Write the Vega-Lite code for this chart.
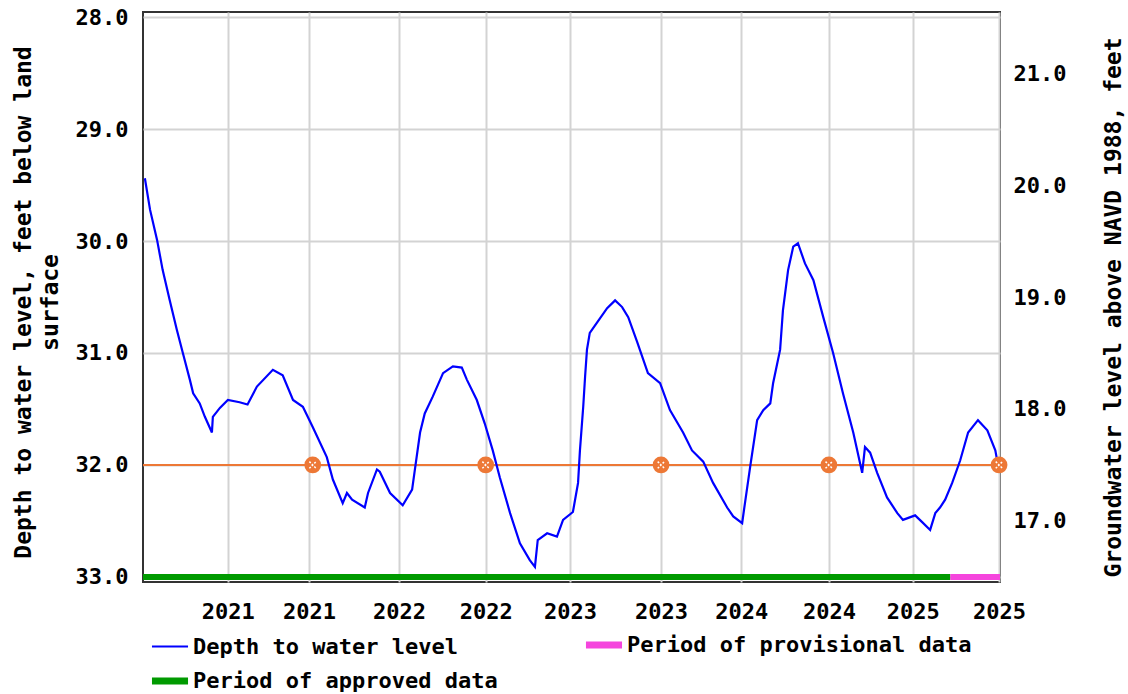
{
  "$schema": "https://vega.github.io/schema/vega-lite/v6.json",
  "width": 857,
  "height": 570,
  "autosize": {"type": "none"},
  "padding": {"left": 143, "top": 12, "right": 128, "bottom": 112},
  "background": "white",
  "config": {
    "view": {"stroke": "#333333", "strokeWidth": 2},
    "font": "DejaVu Sans Mono",
    "axis": {
      "labelFont": "DejaVu Sans Mono",
      "labelFontSize": 22,
      "labelFontWeight": "bold",
      "labelColor": "#000000",
      "titleFont": "DejaVu Sans Mono",
      "titleFontSize": 23,
      "titleFontWeight": "bold",
      "titleColor": "#000000",
      "domain": false,
      "ticks": false,
      "tickSize": 0,
      "gridColor": "#d3d3d3",
      "gridWidth": 2,
      "gridOpacity": 1,
      "labelFlush": false
    },
    "legend": {
      "labelFont": "DejaVu Sans Mono",
      "labelFontSize": 22,
      "labelFontWeight": "bold",
      "labelColor": "#000000"
    }
  },
  "datasets": {
    "levels": [
      {"series": "Depth to water level", "date": "2020-07-08", "depth": 29.44},
      {"series": "Depth to water level", "date": "2020-07-19", "depth": 29.72},
      {"series": "Depth to water level", "date": "2020-08-03", "depth": 29.99},
      {"series": "Depth to water level", "date": "2020-08-15", "depth": 30.26},
      {"series": "Depth to water level", "date": "2020-08-30", "depth": 30.53},
      {"series": "Depth to water level", "date": "2020-09-14", "depth": 30.79},
      {"series": "Depth to water level", "date": "2020-09-27", "depth": 31.0},
      {"series": "Depth to water level", "date": "2020-10-12", "depth": 31.24},
      {"series": "Depth to water level", "date": "2020-10-19", "depth": 31.36},
      {"series": "Depth to water level", "date": "2020-11-02", "depth": 31.45},
      {"series": "Depth to water level", "date": "2020-11-13", "depth": 31.57},
      {"series": "Depth to water level", "date": "2020-11-28", "depth": 31.71},
      {"series": "Depth to water level", "date": "2020-11-30", "depth": 31.57},
      {"series": "Depth to water level", "date": "2020-12-15", "depth": 31.49},
      {"series": "Depth to water level", "date": "2021-01-01", "depth": 31.42},
      {"series": "Depth to water level", "date": "2021-01-26", "depth": 31.44},
      {"series": "Depth to water level", "date": "2021-02-12", "depth": 31.46},
      {"series": "Depth to water level", "date": "2021-03-04", "depth": 31.3},
      {"series": "Depth to water level", "date": "2021-04-07", "depth": 31.15},
      {"series": "Depth to water level", "date": "2021-04-28", "depth": 31.2},
      {"series": "Depth to water level", "date": "2021-05-20", "depth": 31.42},
      {"series": "Depth to water level", "date": "2021-06-10", "depth": 31.48},
      {"series": "Depth to water level", "date": "2021-07-01", "depth": 31.66},
      {"series": "Depth to water level", "date": "2021-07-31", "depth": 31.93},
      {"series": "Depth to water level", "date": "2021-08-13", "depth": 32.13},
      {"series": "Depth to water level", "date": "2021-09-03", "depth": 32.34},
      {"series": "Depth to water level", "date": "2021-09-12", "depth": 32.25},
      {"series": "Depth to water level", "date": "2021-09-23", "depth": 32.31},
      {"series": "Depth to water level", "date": "2021-10-20", "depth": 32.38},
      {"series": "Depth to water level", "date": "2021-10-27", "depth": 32.25},
      {"series": "Depth to water level", "date": "2021-11-15", "depth": 32.04},
      {"series": "Depth to water level", "date": "2021-11-21", "depth": 32.06},
      {"series": "Depth to water level", "date": "2021-12-13", "depth": 32.25},
      {"series": "Depth to water level", "date": "2022-01-09", "depth": 32.36},
      {"series": "Depth to water level", "date": "2022-01-29", "depth": 32.22},
      {"series": "Depth to water level", "date": "2022-02-04", "depth": 32.04},
      {"series": "Depth to water level", "date": "2022-02-15", "depth": 31.71},
      {"series": "Depth to water level", "date": "2022-02-25", "depth": 31.54},
      {"series": "Depth to water level", "date": "2022-03-14", "depth": 31.39},
      {"series": "Depth to water level", "date": "2022-04-05", "depth": 31.18},
      {"series": "Depth to water level", "date": "2022-04-26", "depth": 31.12},
      {"series": "Depth to water level", "date": "2022-05-15", "depth": 31.13},
      {"series": "Depth to water level", "date": "2022-05-26", "depth": 31.24},
      {"series": "Depth to water level", "date": "2022-06-16", "depth": 31.42},
      {"series": "Depth to water level", "date": "2022-07-03", "depth": 31.63},
      {"series": "Depth to water level", "date": "2022-07-20", "depth": 31.87},
      {"series": "Depth to water level", "date": "2022-08-04", "depth": 32.11},
      {"series": "Depth to water level", "date": "2022-08-26", "depth": 32.43},
      {"series": "Depth to water level", "date": "2022-09-16", "depth": 32.7},
      {"series": "Depth to water level", "date": "2022-10-07", "depth": 32.85},
      {"series": "Depth to water level", "date": "2022-10-18", "depth": 32.91},
      {"series": "Depth to water level", "date": "2022-10-24", "depth": 32.67},
      {"series": "Depth to water level", "date": "2022-11-13", "depth": 32.61},
      {"series": "Depth to water level", "date": "2022-12-04", "depth": 32.64},
      {"series": "Depth to water level", "date": "2022-12-17", "depth": 32.49},
      {"series": "Depth to water level", "date": "2023-01-07", "depth": 32.42},
      {"series": "Depth to water level", "date": "2023-01-18", "depth": 32.16},
      {"series": "Depth to water level", "date": "2023-01-22", "depth": 31.87},
      {"series": "Depth to water level", "date": "2023-01-29", "depth": 31.48},
      {"series": "Depth to water level", "date": "2023-02-02", "depth": 31.21},
      {"series": "Depth to water level", "date": "2023-02-06", "depth": 30.97},
      {"series": "Depth to water level", "date": "2023-02-12", "depth": 30.82},
      {"series": "Depth to water level", "date": "2023-02-27", "depth": 30.73},
      {"series": "Depth to water level", "date": "2023-03-21", "depth": 30.6},
      {"series": "Depth to water level", "date": "2023-04-07", "depth": 30.53},
      {"series": "Depth to water level", "date": "2023-04-22", "depth": 30.59},
      {"series": "Depth to water level", "date": "2023-05-05", "depth": 30.68},
      {"series": "Depth to water level", "date": "2023-05-24", "depth": 30.9},
      {"series": "Depth to water level", "date": "2023-06-16", "depth": 31.18},
      {"series": "Depth to water level", "date": "2023-07-12", "depth": 31.27},
      {"series": "Depth to water level", "date": "2023-08-02", "depth": 31.51},
      {"series": "Depth to water level", "date": "2023-08-30", "depth": 31.71},
      {"series": "Depth to water level", "date": "2023-09-18", "depth": 31.87},
      {"series": "Depth to water level", "date": "2023-10-12", "depth": 31.97},
      {"series": "Depth to water level", "date": "2023-11-02", "depth": 32.16},
      {"series": "Depth to water level", "date": "2023-12-02", "depth": 32.38},
      {"series": "Depth to water level", "date": "2023-12-15", "depth": 32.46},
      {"series": "Depth to water level", "date": "2024-01-03", "depth": 32.52},
      {"series": "Depth to water level", "date": "2024-01-09", "depth": 32.34},
      {"series": "Depth to water level", "date": "2024-01-20", "depth": 32.02},
      {"series": "Depth to water level", "date": "2024-02-04", "depth": 31.6},
      {"series": "Depth to water level", "date": "2024-02-17", "depth": 31.51},
      {"series": "Depth to water level", "date": "2024-03-03", "depth": 31.45},
      {"series": "Depth to water level", "date": "2024-03-09", "depth": 31.27},
      {"series": "Depth to water level", "date": "2024-03-24", "depth": 30.97},
      {"series": "Depth to water level", "date": "2024-03-30", "depth": 30.62},
      {"series": "Depth to water level", "date": "2024-04-10", "depth": 30.26},
      {"series": "Depth to water level", "date": "2024-04-21", "depth": 30.05},
      {"series": "Depth to water level", "date": "2024-05-01", "depth": 30.02},
      {"series": "Depth to water level", "date": "2024-05-16", "depth": 30.2},
      {"series": "Depth to water level", "date": "2024-06-03", "depth": 30.35},
      {"series": "Depth to water level", "date": "2024-06-24", "depth": 30.68},
      {"series": "Depth to water level", "date": "2024-07-15", "depth": 31.0},
      {"series": "Depth to water level", "date": "2024-08-05", "depth": 31.36},
      {"series": "Depth to water level", "date": "2024-08-27", "depth": 31.71},
      {"series": "Depth to water level", "date": "2024-09-15", "depth": 32.07},
      {"series": "Depth to water level", "date": "2024-09-21", "depth": 31.84},
      {"series": "Depth to water level", "date": "2024-10-02", "depth": 31.89},
      {"series": "Depth to water level", "date": "2024-10-17", "depth": 32.07},
      {"series": "Depth to water level", "date": "2024-11-07", "depth": 32.29},
      {"series": "Depth to water level", "date": "2024-11-29", "depth": 32.43},
      {"series": "Depth to water level", "date": "2024-12-11", "depth": 32.49},
      {"series": "Depth to water level", "date": "2025-01-06", "depth": 32.45},
      {"series": "Depth to water level", "date": "2025-01-21", "depth": 32.51},
      {"series": "Depth to water level", "date": "2025-02-07", "depth": 32.58},
      {"series": "Depth to water level", "date": "2025-02-18", "depth": 32.43},
      {"series": "Depth to water level", "date": "2025-02-28", "depth": 32.38},
      {"series": "Depth to water level", "date": "2025-03-11", "depth": 32.31},
      {"series": "Depth to water level", "date": "2025-03-26", "depth": 32.16},
      {"series": "Depth to water level", "date": "2025-04-12", "depth": 31.96},
      {"series": "Depth to water level", "date": "2025-04-29", "depth": 31.71},
      {"series": "Depth to water level", "date": "2025-05-20", "depth": 31.6},
      {"series": "Depth to water level", "date": "2025-06-09", "depth": 31.69},
      {"series": "Depth to water level", "date": "2025-06-26", "depth": 31.87},
      {"series": "Depth to water level", "date": "2025-06-30", "depth": 31.96}
    ],
    "periods": [
      {"series": "Period of approved data", "start": "2020-07-04", "end": "2025-03-22"},
      {"series": "Period of provisional data", "start": "2025-03-22", "end": "2025-07-06"}
    ],
    "median": [
      {"start": "2020-07-04", "end": "2025-07-06", "depth": 32.0}
    ],
    "markers": [
      {"date": "2021-07-01", "depth": 32.0},
      {"date": "2022-07-05", "depth": 32.0},
      {"date": "2023-07-14", "depth": 32.0},
      {"date": "2024-07-06", "depth": 32.0},
      {"date": "2025-07-04", "depth": 32.0}
    ],
    "rightAxis": [
      {"gw": 17.0}, {"gw": 18.0}, {"gw": 19.0}, {"gw": 20.0}, {"gw": 21.0}
    ]
  },
  "layer": [
    {
      "data": {"name": "median"},
      "mark": {"type": "rule", "color": "#ed7836", "strokeWidth": 2},
      "encoding": {
        "x": {"field": "start", "type": "temporal"},
        "x2": {"field": "end"},
        "y": {
          "field": "depth",
          "type": "quantitative",
          "scale": {"domain": [27.955, 33.045], "reverse": true, "nice": false, "zero": false},
          "axis": null
        }
      }
    },
    {
      "data": {"name": "levels"},
      "mark": {"type": "line", "strokeWidth": 2.2, "interpolate": "linear"},
      "encoding": {
        "x": {
          "field": "date",
          "type": "temporal",
          "scale": {
            "type": "utc",
            "domain": [
              {"year": 2020, "month": 7, "date": 4, "utc": true},
              {"year": 2025, "month": 7, "date": 6, "utc": true}
            ],
            "nice": false
          },
          "axis": {
            "title": null,
            "format": "%Y",
            "labelPadding": 19,
            "labelFlush": false,
            "grid": true,
            "labelOverlap": false,
            "values": [
              {"year": 2021, "month": 1, "date": 1, "utc": true},
              {"year": 2021, "month": 6, "date": 23, "utc": true},
              {"year": 2022, "month": 1, "date": 1, "utc": true},
              {"year": 2022, "month": 7, "date": 5, "utc": true},
              {"year": 2023, "month": 1, "date": 1, "utc": true},
              {"year": 2023, "month": 7, "date": 14, "utc": true},
              {"year": 2024, "month": 1, "date": 1, "utc": true},
              {"year": 2024, "month": 7, "date": 6, "utc": true},
              {"year": 2025, "month": 1, "date": 1, "utc": true},
              {"year": 2025, "month": 7, "date": 4, "utc": true}
            ]
          }
        },
        "y": {
          "field": "depth",
          "type": "quantitative",
          "scale": {"domain": [27.955, 33.045], "reverse": true, "nice": false, "zero": false},
          "axis": {
            "values": [28, 29, 30, 31, 32, 33],
            "format": ".1f",
            "grid": true,
            "labelPadding": 15,
            "title": ["Depth to water level, feet below land", "surface"],
            "titleAngle": -90,
            "titleAlign": "center",
            "titleBaseline": "middle",
            "titleLineHeight": 27,
            "titleX": -120,
            "titleY": 290
          }
        },
        "color": {
          "field": "series",
          "type": "nominal",
          "scale": {
            "domain": ["Depth to water level", "Period of approved data", "Period of provisional data"],
            "range": ["#0000ff", "#009a00", "#f545dd"]
          },
          "legend": {
            "title": null,
            "orient": "none",
            "legendX": 16,
            "legendY": 622,
            "columns": 2,
            "columnPadding": 73,
            "rowPadding": 8,
            "gridAlign": "each",
            "symbolType": "stroke",
            "symbolSize": 1300,
            "symbolStrokeWidth": 6,
            "labelOffset": 12,
            "labelLimit": 0,
            "padding": 0,
            "encode": {
              "symbols": {
                "update": {
                  "strokeWidth": {"signal": "datum.value === 'Depth to water level' ? 2 : 7"}
                }
              }
            }
          }
        }
      }
    },
    {
      "data": {"name": "periods"},
      "mark": {"type": "rule", "strokeWidth": 6},
      "encoding": {
        "x": {"field": "start", "type": "temporal"},
        "x2": {"field": "end"},
        "y": {
          "datum": 33.0,
          "type": "quantitative",
          "scale": {"domain": [27.955, 33.045], "reverse": true, "nice": false, "zero": false},
          "axis": null
        },
        "color": {
          "field": "series",
          "type": "nominal",
          "scale": {
            "domain": ["Depth to water level", "Period of approved data", "Period of provisional data"],
            "range": ["#0000ff", "#009a00", "#f545dd"]
          },
          "legend": {
            "title": null,
            "orient": "none",
            "legendX": 16,
            "legendY": 622,
            "columns": 2,
            "columnPadding": 73,
            "rowPadding": 8,
            "gridAlign": "each",
            "symbolType": "stroke",
            "symbolSize": 1300,
            "symbolStrokeWidth": 6,
            "labelOffset": 12,
            "labelLimit": 0,
            "padding": 0,
            "encode": {
              "symbols": {
                "update": {
                  "strokeWidth": {"signal": "datum.value === 'Depth to water level' ? 2 : 7"}
                }
              }
            }
          }
        }
      }
    },
    {
      "data": {"name": "markers"},
      "mark": {"type": "point", "shape": "circle", "filled": true, "size": 280, "color": "#ed7836", "opacity": 1},
      "encoding": {
        "x": {"field": "date", "type": "temporal"},
        "y": {
          "field": "depth",
          "type": "quantitative",
          "scale": {"domain": [27.955, 33.045], "reverse": true, "nice": false, "zero": false},
          "axis": null
        }
      }
    },
    {
      "data": {"name": "markers"},
      "mark": {"type": "point", "shape": "M-1,-1L1,1M-1,1L1,-1", "filled": false, "size": 45, "stroke": "#ffffff", "strokeWidth": 1.5, "strokeDash": [2, 1.5], "opacity": 1},
      "encoding": {
        "x": {"field": "date", "type": "temporal"},
        "y": {
          "field": "depth",
          "type": "quantitative",
          "scale": {"domain": [27.955, 33.045], "reverse": true, "nice": false, "zero": false},
          "axis": null
        }
      }
    },
    {
      "data": {"name": "rightAxis"},
      "mark": {"type": "point", "opacity": 0},
      "encoding": {
        "y": {
          "field": "gw",
          "type": "quantitative",
          "scale": {"domain": [16.455, 21.545], "nice": false, "zero": false},
          "axis": {
            "orient": "right",
            "values": [17, 18, 19, 20, 21],
            "format": ".1f",
            "grid": false,
            "labelPadding": 13,
            "title": "Groundwater level above NAVD 1988, feet",
            "titleAngle": -90,
            "titleAlign": "center",
            "titleBaseline": "middle",
            "titleX": 113,
            "titleY": 295
          }
        }
      }
    }
  ],
  "resolve": {"scale": {"y": "independent"}}
}
